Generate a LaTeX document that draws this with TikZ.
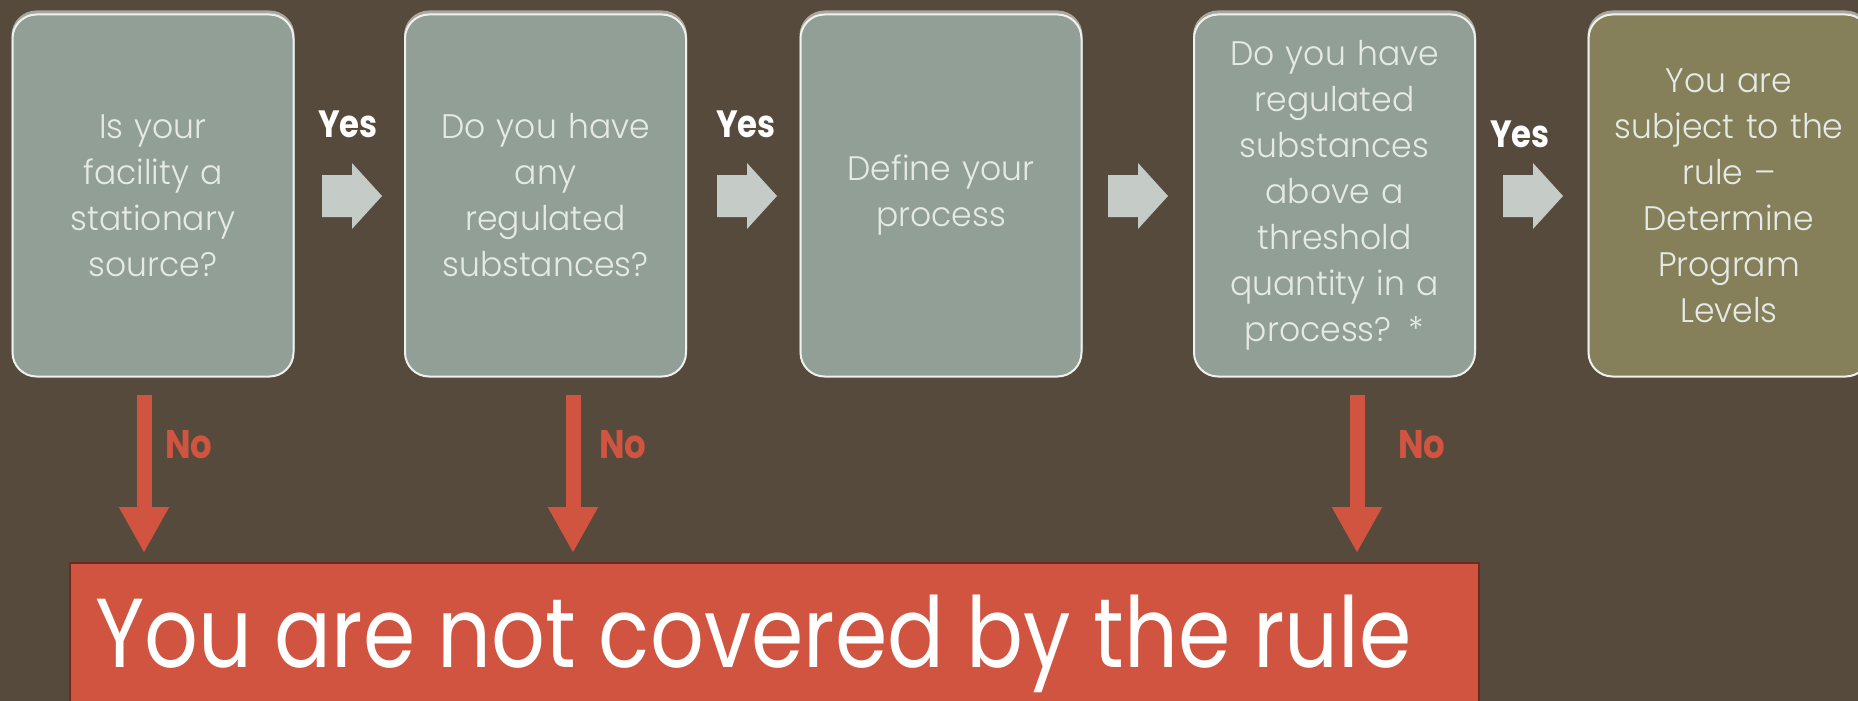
\documentclass[tikz,border=0pt]{standalone}
\usepackage{fontspec}
\usetikzlibrary{arrows.meta,calc}

\newfontfamily\boxfont[FakeStretch=0.97]{Poppins Light}
\newfontfamily\tagfont[FakeStretch=0.85]{Poppins}
\newfontfamily\bigfont[FakeStretch=0.86]{Poppins}

\definecolor{bg}{HTML}{564A3C}
\definecolor{sage}{HTML}{919F97}
\definecolor{olive}{HTML}{85805A}
\definecolor{brick}{HTML}{D05440}
\definecolor{darkbrick}{HTML}{6E2A1E}
\definecolor{pale}{HTML}{E6EAE6}
\definecolor{rim}{HTML}{EEF1EE}
\definecolor{rimshade}{HTML}{ABA79D}
\definecolor{blockgray}{HTML}{C5CBC6}

\tikzset{
  stepbox/.style={rectangle, rounded corners=24pt, draw=rim, line width=2pt,
    fill=sage, minimum width=281pt, minimum height=362pt, text width=270pt,
    inner sep=0pt, align=center, text=pale,
    font=\boxfont\fontsize{34}{46}\selectfont,
    preaction={fill=rimshade, draw=rimshade, transform canvas={yshift=3pt}}},
  endbox/.style={stepbox, fill=olive},
  yeslabel/.style={anchor=base, inner sep=0pt, text=white,
    font=\tagfont\bfseries\fontsize{38}{38}\selectfont},
  nolabel/.style={anchor=base west, inner sep=0pt, text=brick,
    font=\tagfont\bfseries\fontsize{40}{40}\selectfont},
  noarrow/.style={draw=brick, line width=15pt,
    -{Triangle[width=47pt,length=46pt]}, shorten >=9pt},
  blockarrow/.pic={\fill[blockgray] (0,-21) -- (30,-21) -- (30,-33) -- (60,0)
    -- (30,33) -- (30,21) -- (0,21) -- cycle;}
}

\begin{document}
\begin{tikzpicture}[x=1pt,y=-1pt]
  \fill[bg] (0,0) rectangle (1858,701);
  \useasboundingbox (0,0) rectangle (1858,701);
  \clip (0,0) rectangle (1858,701);

  % decision steps
  \node[stepbox] (b1) at (153,195.5) {Is your\\facility a\\stationary\\source?};
  \node[stepbox] (b2) at (545.5,195.5) {Do you have\\any\\regulated\\substances?};
  \node[stepbox] (b3) at (941,195.5) {Define your\\process};
  \node[stepbox] (b4) at (1334.5,195.5) {Do you have\\regulated\\substances\\above a\\threshold\\quantity in a\\process? *};
  \node[endbox] (b5) at (1729,195.5) {You are\\subject to the\\rule –\\Determine\\Program\\Levels};

  % "yes" block arrows
  \pic at (322,196) {blockarrow};
  \pic at (717,196) {blockarrow};
  \pic at (1108,196) {blockarrow};
  \pic at (1503,196) {blockarrow};
  \node[yeslabel] (y1) at (348,137) {Yes};
  \node[yeslabel] (y2) at (746,137) {Yes};
  \node[yeslabel] (y4) at (1520,147) {Yes};

  % outcome when a question is answered "no"
  \node[rectangle, draw=darkbrick, line width=2pt, fill=brick, anchor=north west,
        minimum width=1409pt, minimum height=170pt, inner sep=0pt] (nc) at (69,562) {};
  \node[anchor=base west, inner sep=0pt, text=white,
        font=\bigfont\fontsize{98}{98}\selectfont] (nctext) at (95,667)
        {You are not covered by the rule};

  \path ([xshift=-9pt,yshift=-17pt]b1.south) coordinate (r1);
  \path ([xshift=27.5pt,yshift=-17pt]b2.south) coordinate (r2);
  \path ([xshift=22.5pt,yshift=-17pt]b4.south) coordinate (r4);
  \draw[noarrow] (r1) -- (r1 |- nc.north);
  \draw[noarrow] (r2) -- (r2 |- nc.north);
  \draw[noarrow] (r4) -- (r4 |- nc.north);
  \node[nolabel] (n1) at (165,458) {No};
  \node[nolabel] (n2) at (599,458) {No};
  \node[nolabel] (n4) at (1398,458) {No};
\end{tikzpicture}
\end{document}
